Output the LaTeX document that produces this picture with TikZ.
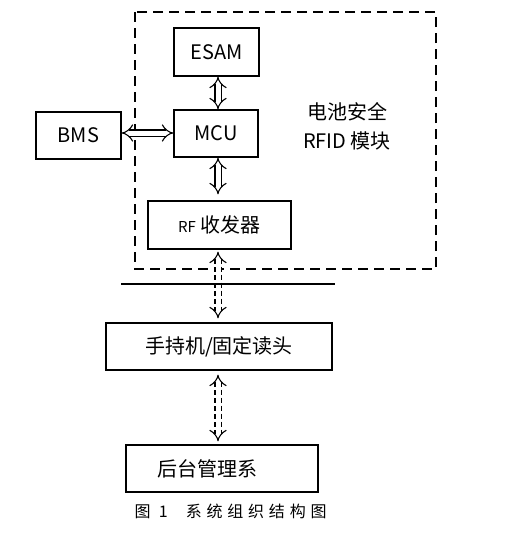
\documentclass[tikz,border=0pt]{standalone}
\usepackage{fontspec}
\setmainfont{Noto Sans CJK SC}
\newfontfamily\capfont[LetterSpace=30]{Noto Sans CJK SC}
\usepackage{tikz}
\usetikzlibrary{arrows.meta,positioning,calc}
\tikzset{
  blk/.style={draw,line width=1.4pt,inner sep=0pt,font=\fontsize{20}{20}\selectfont},
  link/.style={double,double distance=5pt,line width=1.1pt,{Implies}-{Implies}},
  wlink/.style={link,dashed,dash pattern=on 5pt off 3pt}
}

\begin{document}
\begin{tikzpicture}[x=1pt,y=-1pt]
  \useasboundingbox (0,0) rectangle (513,536);
  % module frame
  \draw[line width=1.4pt,dash pattern=on 10pt off 6pt] (135,12) rectangle (436,269);
  \node[font=\fontsize{20}{20}\selectfont,align=center] (title) at (347,126)
    {电池安全\\[9pt]RFID 模块};
  % blocks
  \node[blk,minimum width=85pt,minimum height=48pt] (esam) at (216.5,52) {ESAM};
  \node[blk,minimum width=84pt,minimum height=47pt] (mcu) at (216,133.5) {MCU};
  \node[blk,minimum width=85pt,minimum height=47pt] (bms) at (78.5,135.5) {BMS};
  \node[blk,minimum width=143pt,minimum height=48pt] (rf) at (219.5,225)
    {{\fontsize{15}{15}\selectfont RF}\hspace{5pt}收发器};
  \node[blk,minimum width=226pt,minimum height=47pt] (reader) at (219,346.5) {手持机/固定读头};
  \node[blk,minimum width=192pt,minimum height=47pt] (backend) at (222,468.5)
    {\hspace{-30pt}后台管理系};
  % links
  \draw[link] (esam.south -| 218,0) -- (mcu.north -| 218,0);
  \draw[link] (bms.east |- 0,133) -- (mcu.west |- 0,133);
  \draw[link] (mcu.south -| 218,0) -- ($(rf.north -| 218,0)+(0,-6)$);
  \draw[wlink] ($(rf.south -| 218,0)+(0,2)$) -- ($(reader.north -| 218,0)+(0,-4)$);
  \draw[wlink] ($(reader.south -| 218,0)+(0,4)$) -- ($(backend.north -| 218,0)+(0,-3)$);
  \draw[line width=1.1pt] (121,284) -- (335,284);
  % caption
  \node[font=\fontsize{16}{16}\selectfont\capfont,anchor=west] (cap) at (131,511)
    {图 1\hspace{18pt}系统组织结构图};
\end{tikzpicture}
\end{document}
